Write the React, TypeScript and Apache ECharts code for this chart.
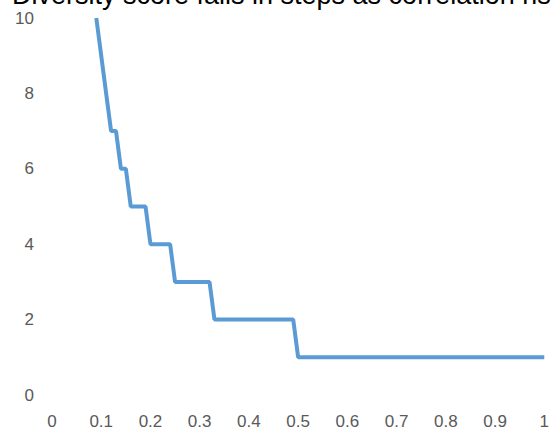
import React, { useEffect, useRef } from "react";
import * as echarts from "echarts";

const titleText = "Diversity score falls in steps as correlation rises";
const correlation = [0.09, 0.1, 0.11, 0.12, 0.13, 0.14, 0.15, 0.16, 0.19, 0.2, 0.24, 0.25, 0.32, 0.33, 0.49, 0.5, 1.0];
const diversity = [10, 9, 8, 7, 7, 6, 6, 5, 5, 4, 4, 3, 3, 2, 2, 1, 1];
const yTicks = { min: 0, max: 10, interval: 2 };
const xTicks = { min: 0, max: 1, interval: 0.1 };

export default function App() {
  const ref = useRef<HTMLDivElement>(null);
  useEffect(() => {
    if (!ref.current) return;
    const chart = echarts.init(ref.current, null, { renderer: "svg" });
    const data = correlation.map((x, i) => [x, diversity[i]]);
    chart.setOption({
      animation: false,
      backgroundColor: "#ffffff",
      textStyle: { fontFamily: "Liberation Sans, Arial, sans-serif" },
      grid: { left: 52, right: 7, top: 18, bottom: 35, containLabel: false },
      graphic: [
        {
          type: "text",
          x: 12,
          y: -5,
          style: {
            text: titleText,
            fontSize: 27,
            fontFamily: "Liberation Sans, Arial, sans-serif",
            fill: "#000000",
            verticalAlign: "middle",
            align: "left",
          },
        },
      ],
      xAxis: {
        type: "value",
        min: xTicks.min,
        max: xTicks.max,
        interval: xTicks.interval,
        axisLine: { show: false },
        axisTick: { show: false },
        splitLine: { show: false },
        axisLabel: {
          color: "#595959",
          fontSize: 17,
          margin: 18,
          showMinLabel: true,
          showMaxLabel: true,
          formatter: (v: number) => String(Math.round(v * 10) / 10),
        },
      },
      yAxis: {
        type: "value",
        min: yTicks.min,
        max: yTicks.max,
        interval: yTicks.interval,
        axisLine: { show: false },
        axisTick: { show: false },
        splitLine: { show: false },
        axisLabel: { color: "#595959", fontSize: 17, margin: 18, padding: [5, 0, 0, 0] },
      },
      series: [
        {
          type: "line",
          data,
          showSymbol: false,
          symbol: "none",
          clip: false,
          lineStyle: { color: "#5B9BD5", width: 4 },
          itemStyle: { color: "#5B9BD5" },
        },
      ],
    });
    return () => chart.dispose();
  }, []);
  return (
    <div
      ref={ref}
      style={{ position: "fixed", left: 0, top: 0, width: 552, height: 430 }}
    />
  );
}
